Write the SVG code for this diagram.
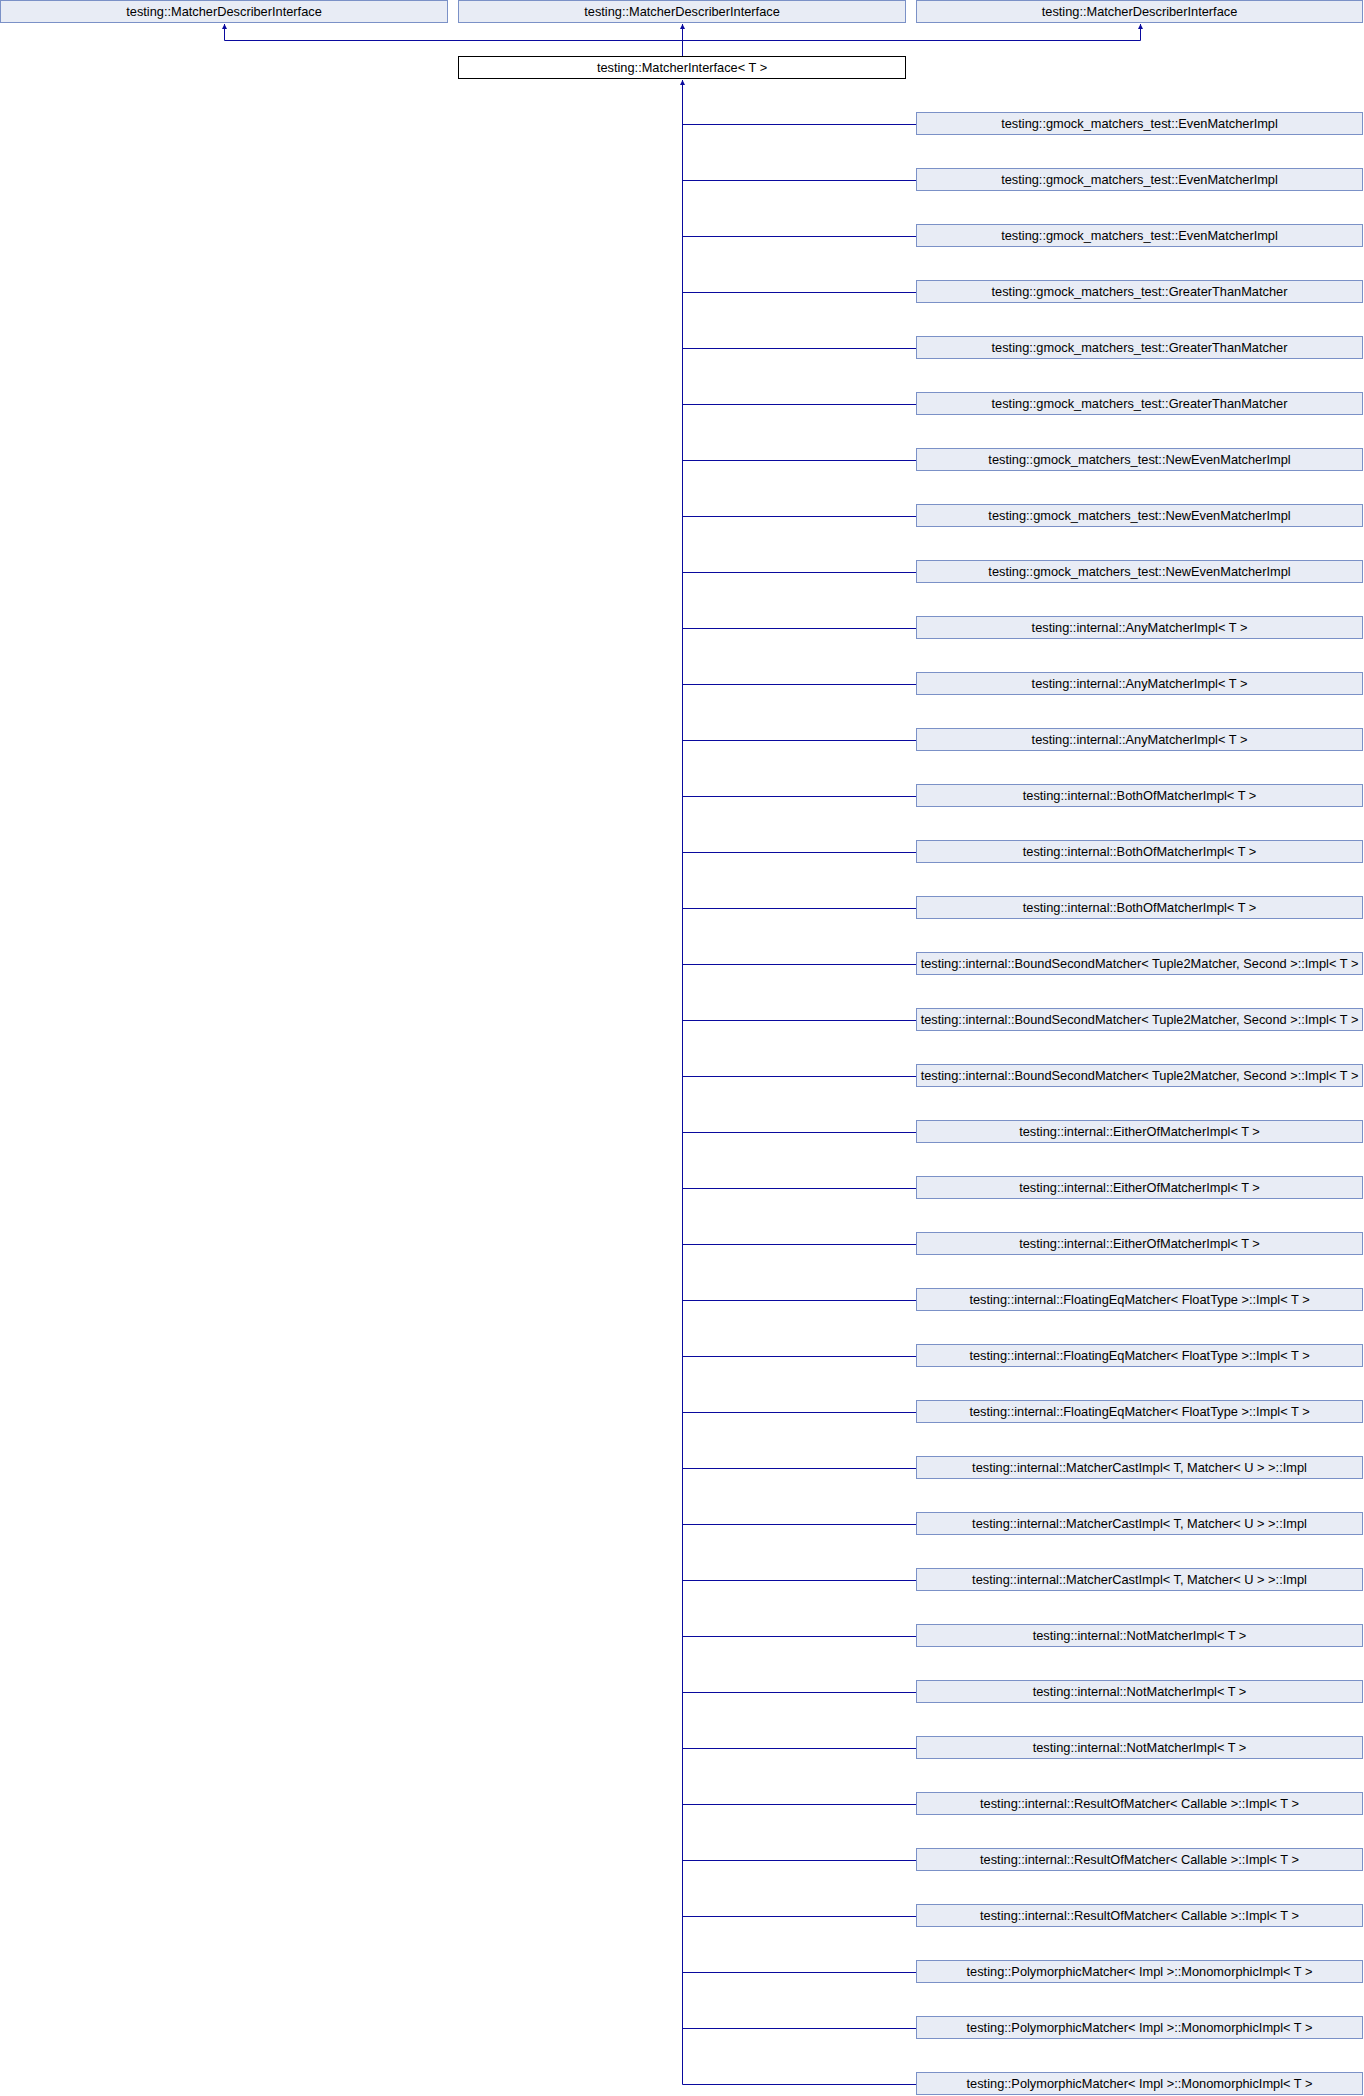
<svg xmlns="http://www.w3.org/2000/svg" width="1364" height="2096" viewBox="0 0 1364 2096">
<defs>
<style>
.n rect{fill:#e8ecf5;stroke:#7b91c7;stroke-width:1}
.n.m rect{fill:#ffffff;stroke:#000000}
.n text{font-family:"Liberation Sans",Arial,Helvetica,sans-serif;font-size:12.8px;fill:#000000;text-anchor:middle}
.e path{fill:none;stroke:#0a0a9e;stroke-width:1}
</style>
<marker id="ah" viewBox="0 0 10 10" refX="10" refY="5" markerUnits="userSpaceOnUse" markerWidth="6" markerHeight="5" orient="auto">
<path d="M0,0 L10,5 L0,10 z" fill="#0a0a9e" stroke="none"/>
</marker>
</defs>
<rect width="1364" height="2096" fill="#ffffff"/>
<g id="connectors" class="e">
<path d="M682.5,56 V24" marker-end="url(#ah)"/>
<path d="M682.5,40.5 H224.5 V24" marker-end="url(#ah)"/>
<path d="M682.5,40.5 H1140.5 V24" marker-end="url(#ah)"/>
<path d="M682.5,2084.5 V80" marker-end="url(#ah)"/>
<path d="M916,124.5 H682.5 M916,180.5 H682.5 M916,236.5 H682.5 M916,292.5 H682.5 M916,348.5 H682.5 M916,404.5 H682.5 M916,460.5 H682.5 M916,516.5 H682.5 M916,572.5 H682.5 M916,628.5 H682.5 M916,684.5 H682.5 M916,740.5 H682.5 M916,796.5 H682.5 M916,852.5 H682.5 M916,908.5 H682.5 M916,964.5 H682.5 M916,1020.5 H682.5 M916,1076.5 H682.5 M916,1132.5 H682.5 M916,1188.5 H682.5 M916,1244.5 H682.5 M916,1300.5 H682.5 M916,1356.5 H682.5 M916,1412.5 H682.5 M916,1468.5 H682.5 M916,1524.5 H682.5 M916,1580.5 H682.5 M916,1636.5 H682.5 M916,1692.5 H682.5 M916,1748.5 H682.5 M916,1804.5 H682.5 M916,1860.5 H682.5 M916,1916.5 H682.5 M916,1972.5 H682.5 M916,2028.5 H682.5 M916,2084.5 H682.5"/>
</g>
<g id="node_p1" class="n"><rect x="0.5" y="0.5" width="447" height="22"/><text x="224" y="16">testing::MatcherDescriberInterface</text></g>
<g id="node_p2" class="n"><rect x="458.5" y="0.5" width="447" height="22"/><text x="682" y="16">testing::MatcherDescriberInterface</text></g>
<g id="node_p3" class="n"><rect x="916.5" y="0.5" width="446" height="22"/><text x="1139.5" y="16">testing::MatcherDescriberInterface</text></g>
<g id="node_main" class="n m"><rect x="458.5" y="56.5" width="447" height="22"/><text x="682" y="72">testing::MatcherInterface&lt; T &gt;</text></g>
<g id="node_c1" class="n"><rect x="916.5" y="112.5" width="446" height="22"/><text x="1139.5" y="128">testing::gmock_matchers_test::EvenMatcherImpl</text></g>
<g id="node_c2" class="n"><rect x="916.5" y="168.5" width="446" height="22"/><text x="1139.5" y="184">testing::gmock_matchers_test::EvenMatcherImpl</text></g>
<g id="node_c3" class="n"><rect x="916.5" y="224.5" width="446" height="22"/><text x="1139.5" y="240">testing::gmock_matchers_test::EvenMatcherImpl</text></g>
<g id="node_c4" class="n"><rect x="916.5" y="280.5" width="446" height="22"/><text x="1139.5" y="296">testing::gmock_matchers_test::GreaterThanMatcher</text></g>
<g id="node_c5" class="n"><rect x="916.5" y="336.5" width="446" height="22"/><text x="1139.5" y="352">testing::gmock_matchers_test::GreaterThanMatcher</text></g>
<g id="node_c6" class="n"><rect x="916.5" y="392.5" width="446" height="22"/><text x="1139.5" y="408">testing::gmock_matchers_test::GreaterThanMatcher</text></g>
<g id="node_c7" class="n"><rect x="916.5" y="448.5" width="446" height="22"/><text x="1139.5" y="464">testing::gmock_matchers_test::NewEvenMatcherImpl</text></g>
<g id="node_c8" class="n"><rect x="916.5" y="504.5" width="446" height="22"/><text x="1139.5" y="520">testing::gmock_matchers_test::NewEvenMatcherImpl</text></g>
<g id="node_c9" class="n"><rect x="916.5" y="560.5" width="446" height="22"/><text x="1139.5" y="576">testing::gmock_matchers_test::NewEvenMatcherImpl</text></g>
<g id="node_c10" class="n"><rect x="916.5" y="616.5" width="446" height="22"/><text x="1139.5" y="632">testing::internal::AnyMatcherImpl&lt; T &gt;</text></g>
<g id="node_c11" class="n"><rect x="916.5" y="672.5" width="446" height="22"/><text x="1139.5" y="688">testing::internal::AnyMatcherImpl&lt; T &gt;</text></g>
<g id="node_c12" class="n"><rect x="916.5" y="728.5" width="446" height="22"/><text x="1139.5" y="744">testing::internal::AnyMatcherImpl&lt; T &gt;</text></g>
<g id="node_c13" class="n"><rect x="916.5" y="784.5" width="446" height="22"/><text x="1139.5" y="800">testing::internal::BothOfMatcherImpl&lt; T &gt;</text></g>
<g id="node_c14" class="n"><rect x="916.5" y="840.5" width="446" height="22"/><text x="1139.5" y="856">testing::internal::BothOfMatcherImpl&lt; T &gt;</text></g>
<g id="node_c15" class="n"><rect x="916.5" y="896.5" width="446" height="22"/><text x="1139.5" y="912">testing::internal::BothOfMatcherImpl&lt; T &gt;</text></g>
<g id="node_c16" class="n"><rect x="916.5" y="952.5" width="446" height="22"/><text x="1139.5" y="968">testing::internal::BoundSecondMatcher&lt; Tuple2Matcher, Second &gt;::Impl&lt; T &gt;</text></g>
<g id="node_c17" class="n"><rect x="916.5" y="1008.5" width="446" height="22"/><text x="1139.5" y="1024">testing::internal::BoundSecondMatcher&lt; Tuple2Matcher, Second &gt;::Impl&lt; T &gt;</text></g>
<g id="node_c18" class="n"><rect x="916.5" y="1064.5" width="446" height="22"/><text x="1139.5" y="1080">testing::internal::BoundSecondMatcher&lt; Tuple2Matcher, Second &gt;::Impl&lt; T &gt;</text></g>
<g id="node_c19" class="n"><rect x="916.5" y="1120.5" width="446" height="22"/><text x="1139.5" y="1136">testing::internal::EitherOfMatcherImpl&lt; T &gt;</text></g>
<g id="node_c20" class="n"><rect x="916.5" y="1176.5" width="446" height="22"/><text x="1139.5" y="1192">testing::internal::EitherOfMatcherImpl&lt; T &gt;</text></g>
<g id="node_c21" class="n"><rect x="916.5" y="1232.5" width="446" height="22"/><text x="1139.5" y="1248">testing::internal::EitherOfMatcherImpl&lt; T &gt;</text></g>
<g id="node_c22" class="n"><rect x="916.5" y="1288.5" width="446" height="22"/><text x="1139.5" y="1304">testing::internal::FloatingEqMatcher&lt; FloatType &gt;::Impl&lt; T &gt;</text></g>
<g id="node_c23" class="n"><rect x="916.5" y="1344.5" width="446" height="22"/><text x="1139.5" y="1360">testing::internal::FloatingEqMatcher&lt; FloatType &gt;::Impl&lt; T &gt;</text></g>
<g id="node_c24" class="n"><rect x="916.5" y="1400.5" width="446" height="22"/><text x="1139.5" y="1416">testing::internal::FloatingEqMatcher&lt; FloatType &gt;::Impl&lt; T &gt;</text></g>
<g id="node_c25" class="n"><rect x="916.5" y="1456.5" width="446" height="22"/><text x="1139.5" y="1472">testing::internal::MatcherCastImpl&lt; T, Matcher&lt; U &gt; &gt;::Impl</text></g>
<g id="node_c26" class="n"><rect x="916.5" y="1512.5" width="446" height="22"/><text x="1139.5" y="1528">testing::internal::MatcherCastImpl&lt; T, Matcher&lt; U &gt; &gt;::Impl</text></g>
<g id="node_c27" class="n"><rect x="916.5" y="1568.5" width="446" height="22"/><text x="1139.5" y="1584">testing::internal::MatcherCastImpl&lt; T, Matcher&lt; U &gt; &gt;::Impl</text></g>
<g id="node_c28" class="n"><rect x="916.5" y="1624.5" width="446" height="22"/><text x="1139.5" y="1640">testing::internal::NotMatcherImpl&lt; T &gt;</text></g>
<g id="node_c29" class="n"><rect x="916.5" y="1680.5" width="446" height="22"/><text x="1139.5" y="1696">testing::internal::NotMatcherImpl&lt; T &gt;</text></g>
<g id="node_c30" class="n"><rect x="916.5" y="1736.5" width="446" height="22"/><text x="1139.5" y="1752">testing::internal::NotMatcherImpl&lt; T &gt;</text></g>
<g id="node_c31" class="n"><rect x="916.5" y="1792.5" width="446" height="22"/><text x="1139.5" y="1808">testing::internal::ResultOfMatcher&lt; Callable &gt;::Impl&lt; T &gt;</text></g>
<g id="node_c32" class="n"><rect x="916.5" y="1848.5" width="446" height="22"/><text x="1139.5" y="1864">testing::internal::ResultOfMatcher&lt; Callable &gt;::Impl&lt; T &gt;</text></g>
<g id="node_c33" class="n"><rect x="916.5" y="1904.5" width="446" height="22"/><text x="1139.5" y="1920">testing::internal::ResultOfMatcher&lt; Callable &gt;::Impl&lt; T &gt;</text></g>
<g id="node_c34" class="n"><rect x="916.5" y="1960.5" width="446" height="22"/><text x="1139.5" y="1976">testing::PolymorphicMatcher&lt; Impl &gt;::MonomorphicImpl&lt; T &gt;</text></g>
<g id="node_c35" class="n"><rect x="916.5" y="2016.5" width="446" height="22"/><text x="1139.5" y="2032">testing::PolymorphicMatcher&lt; Impl &gt;::MonomorphicImpl&lt; T &gt;</text></g>
<g id="node_c36" class="n"><rect x="916.5" y="2072.5" width="446" height="22"/><text x="1139.5" y="2088">testing::PolymorphicMatcher&lt; Impl &gt;::MonomorphicImpl&lt; T &gt;</text></g>
</svg>
